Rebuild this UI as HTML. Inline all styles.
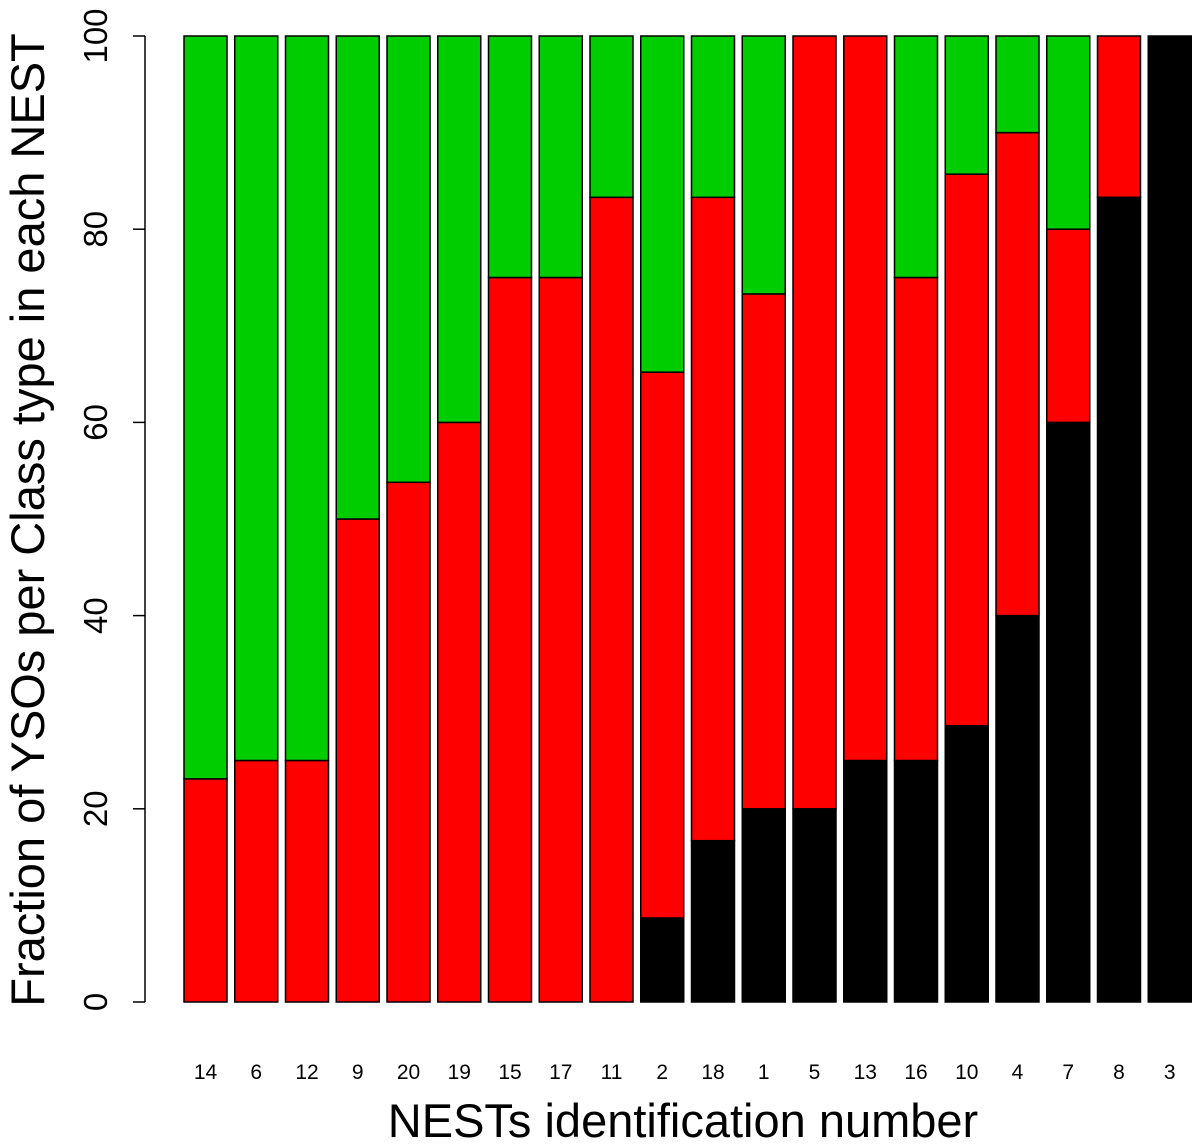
<!DOCTYPE html>
<html><head><meta charset="utf-8"><style>
body{margin:0;background:#fff}
svg{display:block;font-family:"Liberation Sans",Arial,sans-serif}
</style></head><body>
<svg id="chart" width="1200" height="1146" viewBox="0 0 1200 1146" xmlns="http://www.w3.org/2000/svg">
<g id="bars"></g>
<g id="axis"></g>
<g id="xlabels"></g>
<text x="683" y="1137" font-size="47" text-anchor="middle">NESTs identification number</text>
<text transform="translate(44,520) rotate(-90)" font-size="47" text-anchor="middle">Fraction of YSOs per Class type in each NEST</text>
</svg>
<script>
const categories=["14","6","12","9","20","19","15","17","11","2","18","1","5","13","16","10","4","7","8","3"];
const classIII=[0,0,0,0,0,0,0,0,0,8.7,16.7,20,20,25,25,28.6,40,60,83.3,100];
const classII=[23.1,25,25,50,53.8,60,75,75,83.3,56.5,66.6,53.3,80,75,50,57.1,50,20,16.7,0];
const classI=[76.9,75,75,50,46.2,40,25,25,16.7,34.8,16.7,26.7,0,0,25,14.3,10,20,0,0];
const yTicks=[0,20,40,60,80,100];
const NS="http://www.w3.org/2000/svg";
const y0=1002,y1=36;
function yS(v){return y0-(v/100)*(y0-y1);}
function xS(i){return 184+i*50.75;}
const bw=43;
const bars=document.getElementById('bars');
function rect(x,ya,yb,fill,name){
  const r=document.createElementNS(NS,'rect');
  r.setAttribute('x',x);r.setAttribute('y',yS(yb));
  r.setAttribute('width',bw);r.setAttribute('height',Math.max(0,yS(ya)-yS(yb)));
  r.setAttribute('fill',fill);r.setAttribute('stroke','#000');r.setAttribute('stroke-width','1.5');
  
  
  bars.appendChild(r);
}
categories.forEach((c,i)=>{
  const x=xS(i);
  let b=0;
  if(classIII[i]>0){rect(x,b,b+classIII[i],'#000000','bar-black-'+c);} b+=classIII[i];
  if(classII[i]>0){rect(x,b,b+classII[i],'#ff0000','bar-red-'+c);} b+=classII[i];
  if(classI[i]>0){rect(x,b,b+classI[i],'#00cd00','bar-green-'+c);}
  const t=document.createElementNS(NS,'text');
  t.setAttribute('x',x+bw/2);t.setAttribute('y',1079);
  t.setAttribute('font-size','21');t.setAttribute('text-anchor','middle');
  t.textContent=c;
  
  
  document.getElementById('xlabels').appendChild(t);
});
const ax=document.getElementById('axis');
const l=document.createElementNS(NS,'line');
l.setAttribute('x1',145);l.setAttribute('x2',145);l.setAttribute('y1',yS(0));l.setAttribute('y2',yS(100));
l.setAttribute('stroke','#000');l.setAttribute('stroke-width','1.5');


ax.appendChild(l);
yTicks.forEach(v=>{
  const tk=document.createElementNS(NS,'line');
  tk.setAttribute('x1',133);tk.setAttribute('x2',145);tk.setAttribute('y1',yS(v));tk.setAttribute('y2',yS(v));
  tk.setAttribute('stroke','#000');tk.setAttribute('stroke-width','1.5');
  
  
  ax.appendChild(tk);
  const t=document.createElementNS(NS,'text');
  t.setAttribute('transform','translate(107,'+yS(v)+') rotate(-90)');
  t.setAttribute('font-size','33');t.setAttribute('text-anchor','middle');
  t.textContent=v;
  
  
  ax.appendChild(t);
});
</script>
</body></html>
